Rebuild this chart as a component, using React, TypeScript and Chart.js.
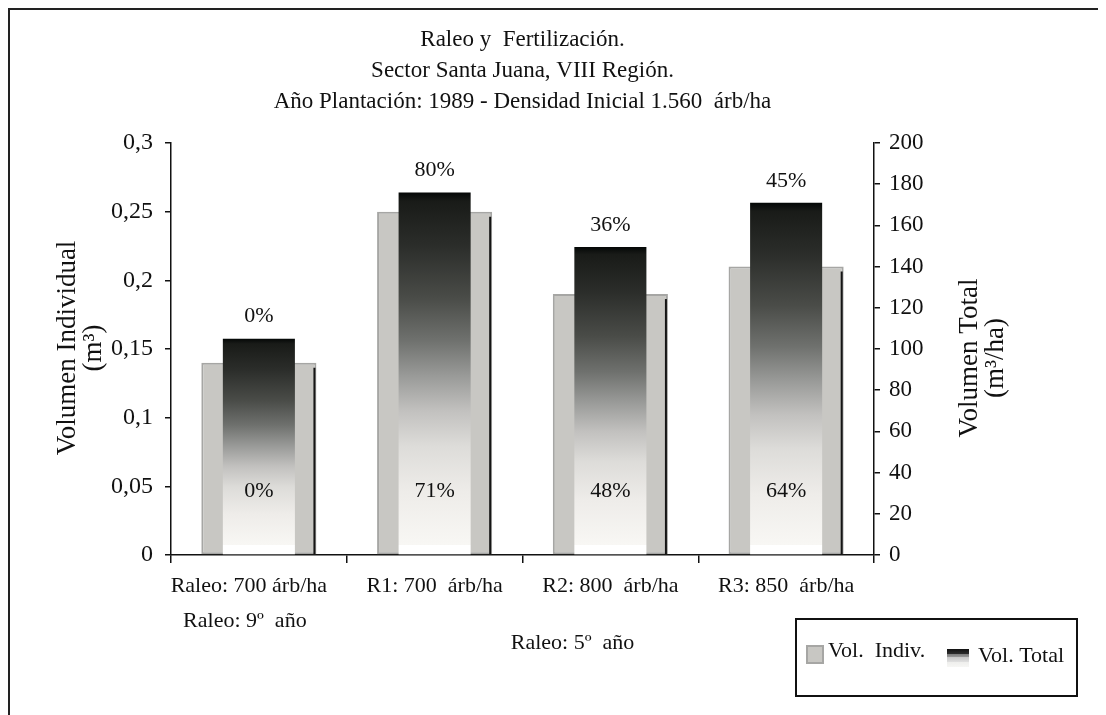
import React, { useEffect, useRef } from "react";
import { Chart, registerables } from "chart.js";

Chart.register(...registerables);

const categories = ["Raleo: 700 árb/ha", "R1: 700  árb/ha", "R2: 800  árb/ha", "R3: 850  árb/ha"];
const volIndiv = [0.14, 0.25, 0.19, 0.21];
const volTotal = [105, 176, 149.5, 171];
const totalPctLabels = ["0%", "80%", "36%", "45%"];
const indivPctLabels = ["0%", "71%", "48%", "64%"];
const titleLines = [
  "Raleo y  Fertilización.",
  "Sector Santa Juana, VIII Región.",
  "Año Plantación: 1989 - Densidad Inicial 1.560  árb/ha",
];
const leftAxisTitle = ["Volumen Individual", "(m³)"];
const rightAxisTitle = ["Volumen Total", "(m³/ha)"];
const noteFirst = "Raleo: 9º  año";
const noteGroup = "Raleo: 5º  año";
const legendLabels = ["Vol.  Indiv.", "Vol. Total"];

const FONT = '"Liberation Serif", "Times New Roman", serif';
const GRAY_FILL = "#c8c7c3";
const GRAY_BORDER = "#a6a6a4";

function fmtComma(v: number) {
  return String(Number(v.toFixed(2))).replace(".", ",");
}

function makeGradient(ctx: CanvasRenderingContext2D, top: number, base: number) {
  const g = ctx.createLinearGradient(0, top, 0, base);
  const h = Math.max(base - top, 1);
  const s = Math.min(0.99, Math.max(0.5, 1 - 10 / h));
  g.addColorStop(0, "#040706");
  g.addColorStop(0.025 * s, "#191b18");
  g.addColorStop(0.15 * s, "#2b2d2a");
  g.addColorStop(0.3 * s, "#4a4c48");
  g.addColorStop(0.42 * s, "#6f716e");
  g.addColorStop(0.52 * s, "#999a98");
  g.addColorStop(0.62 * s, "#c2c1bf");
  g.addColorStop(0.72 * s, "#dddcd9");
  g.addColorStop(0.85 * s, "#eeece9");
  g.addColorStop(s, "#f8f7f4");
  g.addColorStop(Math.min(1, s + 0.001), "#ffffff");
  g.addColorStop(1, "#ffffff");
  return g;
}

export default function App() {
  const ref = useRef<HTMLCanvasElement>(null);

  useEffect(() => {
    const canvas = ref.current!;

    const overlay = {
      id: "overlay",
      afterDatasetsDraw(chart: any) {
        const ctx = chart.ctx as CanvasRenderingContext2D;
        const metaIndiv = chart.getDatasetMeta(0);
        const metaTotal = chart.getDatasetMeta(1);
        ctx.save();
        metaIndiv.data.forEach((el: any) => {
          const p = el.getProps(["x", "y", "base", "width"], true);
          ctx.strokeStyle = "#151515";
          ctx.lineWidth = 2;
          ctx.beginPath();
          const xr = p.x + p.width / 2 - 2;
          ctx.moveTo(xr, p.y + 5);
          ctx.lineTo(xr, p.base);
          ctx.stroke();
        });
        ctx.fillStyle = "#111";
        ctx.font = `22px ${FONT}`;
        ctx.textAlign = "center";
        ctx.textBaseline = "middle";
        metaTotal.data.forEach((el: any, i: number) => {
          const p = el.getProps(["x", "y", "base"], true);
          ctx.fillText(totalPctLabels[i], p.x, p.y - 22);
          ctx.fillText(indivPctLabels[i], p.x, p.base - 63);
        });
        ctx.restore();
      },
      afterDraw(chart: any) {
        const ctx = chart.ctx as CanvasRenderingContext2D;
        const area = chart.chartArea;
        const xs = chart.scales.x;
        ctx.save();
        ctx.fillStyle = "#111";
        ctx.textBaseline = "middle";
        ctx.textAlign = "center";

        // outer frame
        ctx.strokeStyle = "#222";
        ctx.lineWidth = 2;
        ctx.beginPath();
        ctx.moveTo(1, chart.height + 5);
        ctx.lineTo(1, 1);
        ctx.lineTo(chart.width + 5, 1);
        ctx.stroke();

        // title
        ctx.font = `23px ${FONT}`;
        const cx = (area.left + area.right) / 2;
        titleLines.forEach((t, i) => {
          ctx.fillText(t, cx, area.top - 103 + i * 31);
        });

        // category labels
        ctx.font = `22px ${FONT}`;
        categories.forEach((c, i) => {
          const x = xs.getPixelForValue(i) + (i === 0 ? -10 : 0);
          ctx.fillText(c, x, area.bottom + 31);
        });
        ctx.fillText(noteFirst, xs.getPixelForValue(0) - 14, area.bottom + 66);
        const mid = (xs.getPixelForValue(1) + xs.getPixelForValue(2)) / 2;
        ctx.fillText(noteGroup, mid + 50, area.bottom + 88);

        // axis titles
        ctx.font = `27px ${FONT}`;
        const ly = (area.top + area.bottom) / 2 - 1;
        leftAxisTitle.forEach((t, i) => {
          ctx.save();
          ctx.translate(60 + i * 26, ly);
          ctx.rotate(-Math.PI / 2);
          ctx.fillText(t, 0, 0);
          ctx.restore();
        });
        rightAxisTitle.forEach((t, i) => {
          ctx.save();
          ctx.translate(area.right + 96 + i * 26, ly + 10);
          ctx.rotate(-Math.PI / 2);
          ctx.fillText(t, 0, 0);
          ctx.restore();
        });

        // legend
        const lx = 788, ly2 = 611, lw = 281, lh = 77;
        ctx.strokeStyle = "#111";
        ctx.lineWidth = 2;
        ctx.strokeRect(lx, ly2, lw, lh);
        ctx.fillStyle = GRAY_FILL;
        ctx.fillRect(lx + 11, ly2 + 27, 16, 17);
        ctx.strokeStyle = GRAY_BORDER;
        ctx.lineWidth = 2;
        ctx.strokeRect(lx + 11, ly2 + 27, 16, 17);
        ctx.fillStyle = "#111";
        ctx.textAlign = "left";
        ctx.font = `22px ${FONT}`;
        ctx.fillText(legendLabels[0], lx + 32, ly2 + 32);
        const gx = lx + 151, gy = ly2 + 30;
        const g = ctx.createLinearGradient(0, gy, 0, gy + 18);
        g.addColorStop(0, "#111");
        g.addColorStop(0.25, "#2a2a2a");
        g.addColorStop(0.26, "#777");
        g.addColorStop(0.45, "#999");
        g.addColorStop(0.46, "#c8c8c8");
        g.addColorStop(0.7, "#dedede");
        g.addColorStop(0.71, "#eeeeec");
        g.addColorStop(1, "#f6f6f4");
        ctx.fillStyle = g;
        ctx.fillRect(gx, gy, 22, 18);
        ctx.fillStyle = "#111";
        ctx.fillText(legendLabels[1], lx + 182, ly2 + 37);
        ctx.restore();
      },
    };

    const chart = new Chart(canvas, {
      type: "bar",
      data: {
        labels: categories,
        datasets: [
          {
            label: legendLabels[0],
            data: volIndiv,
            yAxisID: "y",
            backgroundColor: GRAY_FILL,
            borderColor: GRAY_BORDER,
            borderWidth: 2,
            borderSkipped: false,
            categoryPercentage: 1,
            barPercentage: 0.655,
            grouped: false,
            order: 2,
          },
          {
            label: legendLabels[1],
            data: volTotal,
            yAxisID: "y2",
            backgroundColor: (c: any) => {
              const ch = c.chart;
              const sc = ch.scales && ch.scales.y2;
              if (!sc || c.type !== "data" || !sc.height) return "#444";
              const top = sc.getPixelForValue(c.raw);
              const base = sc.getPixelForValue(0);
              return makeGradient(ch.ctx, top, base);
            },
            borderWidth: 0,
            categoryPercentage: 1,
            barPercentage: 0.41,
            grouped: false,
            order: 1,
          },
        ],
      },
      options: {
        animation: false,
        responsive: true,
        maintainAspectRatio: false,
        layout: { padding: { top: 135, left: 0, right: 0, bottom: 0 } },
        plugins: {
          legend: { display: false },
          tooltip: { enabled: false },
          title: { display: false },
        },
        scales: {
          x: {
            offset: true,
            grid: {
              display: true,
              offset: true,
              drawOnChartArea: false,
              drawTicks: true,
              tickLength: 8,
              color: "#111",
              lineWidth: 1.5,
            },
            border: { display: true, color: "#111", width: 1.5 },
            ticks: { autoSkip: false, maxRotation: 0, callback: () => "" },
            afterFit: (s: any) => {
              s.height = 160;
            },
          },
          y: {
            position: "left",
            min: 0,
            max: 0.3,
            ticks: {
              stepSize: 0.05,
              color: "#111",
              padding: 12,
              font: { family: FONT, size: 24 },
              callback: (v: any) => fmtComma(Number(v)),
            },
            grid: { drawOnChartArea: false, tickLength: 6, color: "#111", lineWidth: 1.5 },
            border: { color: "#111", width: 1.5 },
            afterFit: (s: any) => {
              s.width = 163;
            },
          },
          y2: {
            position: "right",
            min: 0,
            max: 200,
            ticks: {
              stepSize: 20,
              color: "#111",
              padding: 9,
              font: { family: FONT, size: 23 },
            },
            grid: { drawOnChartArea: false, tickLength: 6, color: "#111", lineWidth: 1.5 },
            border: { color: "#111", width: 1.5 },
            afterFit: (s: any) => {
              s.width = 224;
            },
          },
        },
      },
      plugins: [overlay],
    });

    return () => chart.destroy();
  }, []);

  return (
    <div style={{ width: 1090, height: 707, position: "relative" }}>
      <canvas ref={ref} />
    </div>
  );
}
